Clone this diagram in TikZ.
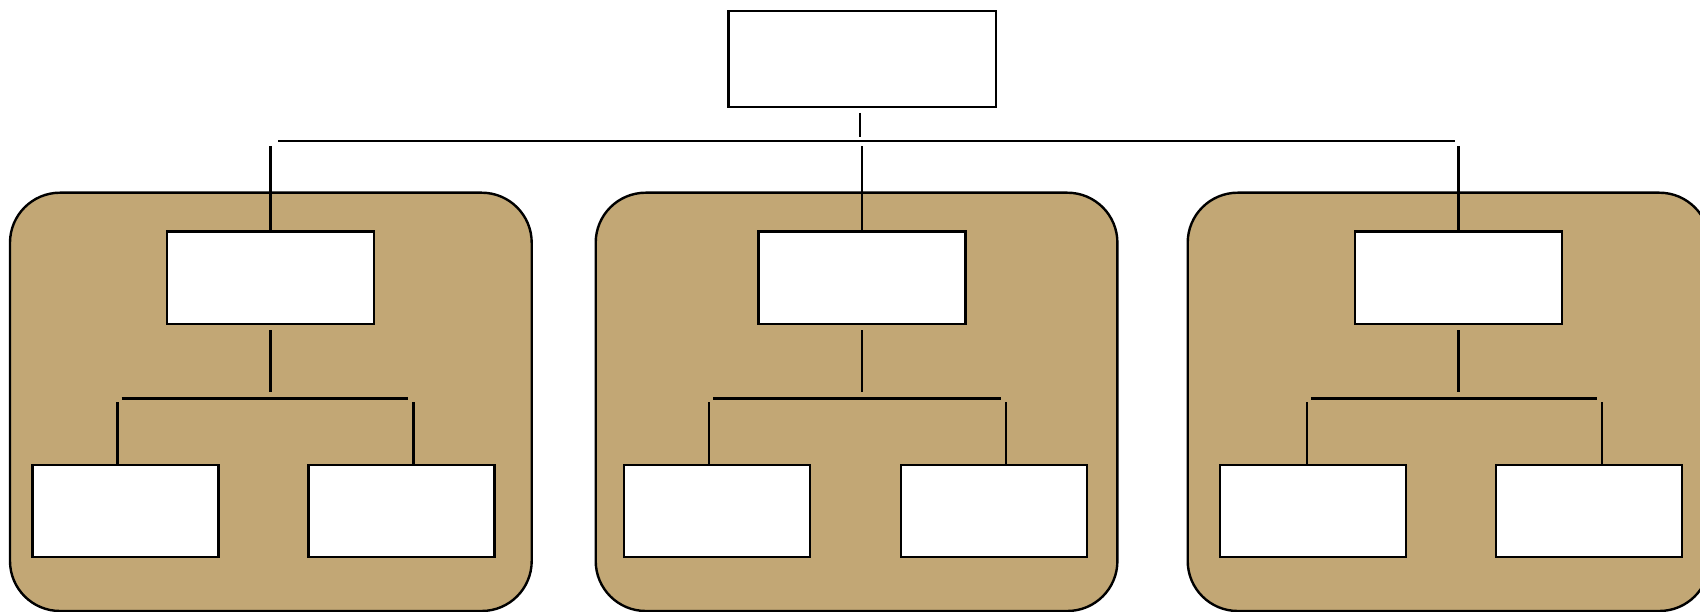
\documentclass[tikz,border=0pt]{standalone}
\usepackage{tikz}
\definecolor{sand}{RGB}{194,167,117}

\begin{document}
\begin{tikzpicture}[x=1pt,y=-1pt,
		box/.style={draw,fill=white,line width=2.4pt,inner sep=0pt,minimum width=#1,minimum height=92.6pt},
		box/.default=207pt,
		panel/.style={draw,fill=sand,line width=2.4pt,rounded corners=50pt},
		link/.style={line width=2.4pt}]
		
		\useasboundingbox (0,0) rectangle (1700,612);
		
		%panels
		\foreach \x in {10,595.7,1187.7}
		{
			\draw[panel] (\x,192.7) rectangle ++(521.7,418.3);
		}
		
		%root
		\node[box=267.4pt,minimum height=95.7pt] (root) at (862,58.9) {};
		\coordinate (bus) at (860,141);
		\draw[link,shorten <=5pt,shorten >=4.3pt] (root.south -| bus) -- (bus);
		
		%groups
		\foreach \i/\mx/\va/\vb/\la/\lb in {1/270.5/117.3/413.3/125.3/401.3,2/862/709/1005.7/717.2/994.2,3/1458.5/1307/1602/1313/1588.8}
		{
			\node[box] (m\i) at (\mx,278) {};
			\node[box=186pt,minimum height=92pt] (left\i) at (\la,511) {};
			\node[box=186pt,minimum height=92pt] (right\i) at (\lb,511) {};
			\coordinate (ja\i) at (\va,398.3);
			\coordinate (jb\i) at (\vb,398.3);
			
			\draw[link,shorten <=5.4pt] (m\i.north |- bus) -- (m\i.north);
			\draw[link,shorten <=4.7pt,shorten >=6.6pt] (m\i.south) -- (m\i.south |- ja\i);
			\draw[link,shorten <=4.4pt,shorten >=5pt] (ja\i) -- (jb\i);
			\draw[link,shorten <=4pt] (ja\i) -- (ja\i |- left\i.north);
			\draw[link,shorten <=4pt] (jb\i) -- (jb\i |- right\i.north);
		}
		
		\draw[link,shorten <=7.6pt,shorten >=4pt] (m1.north |- bus) -- (m3.north |- bus);
		
	\end{tikzpicture}
\end{document}
